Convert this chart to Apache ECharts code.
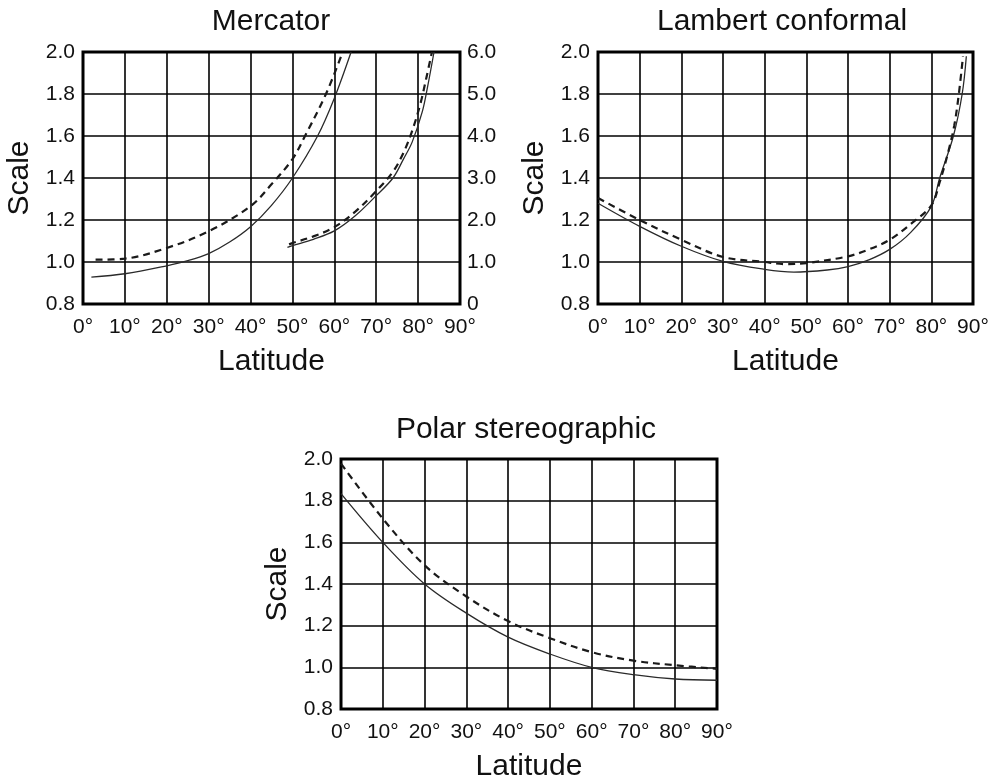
<!DOCTYPE html>
<html>
<head>
<meta charset="utf-8">
<script src="https://cdn.jsdelivr.net/npm/echarts@6/dist/echarts.min.js"></script>
<style>
  html, body { margin: 0; background: #fff; }
  #chart { width: 998px; height: 783px; }
</style>
</head>
<body>
<div id="chart"></div>
<script>
// Mercator (left scale 0.8 - 2.0)
const mercSolidLat = [2, 10, 20, 25, 30, 35, 40, 45, 50, 56, 60, 64];
const mercSolid = [0.928, 0.944, 0.982, 1.006, 1.04, 1.095, 1.168, 1.27, 1.4, 1.6, 1.78, 2.0];
const mercDashLat = [3, 10, 20, 30, 40, 45, 50, 53, 58, 62];
const mercDash = [1.011, 1.016, 1.067, 1.146, 1.266, 1.37, 1.49, 1.6, 1.8, 2.0];
// Mercator (right scale 0 - 6)
const mercSolidHiLat = [48.8, 50, 55, 60, 65, 70, 74, 76.5, 78.6, 81, 82.2, 83.8];
const mercSolidHi = [1.35, 1.39, 1.54, 1.74, 2.1, 2.58, 3.0, 3.45, 3.86, 4.58, 5.14, 6.0];
const mercDashHiLat = [49.2, 50, 55, 60, 65, 70, 74, 76.5, 78.5, 80.5, 82, 83.3];
const mercDashHi = [1.42, 1.45, 1.61, 1.83, 2.2, 2.69, 3.15, 3.6, 4.1, 4.75, 5.4, 6.0];

// Lambert conformal
const lambSolidLat = [0, 10, 20, 30, 40, 47, 55, 60, 65, 70, 75, 80, 82, 85.3, 87.4, 88.4];
const lambSolid = [1.28, 1.17, 1.075, 1.003, 0.965, 0.952, 0.962, 0.978, 1.01, 1.06, 1.14, 1.265, 1.4, 1.6, 1.8, 1.98];
const lambDashLat = [0, 10, 20, 30, 40, 45, 50, 60, 65, 70, 75, 80, 82, 84, 85.5, 86.6, 87.6];
const lambDash = [1.305, 1.2, 1.106, 1.024, 1.0, 0.99, 0.995, 1.027, 1.06, 1.106, 1.18, 1.27, 1.38, 1.52, 1.65, 1.8, 1.98];

// Polar stereographic
const polarLat = [0, 10, 20, 30, 40, 50, 60, 70, 80, 90];
const polarSolid = [1.834, 1.6, 1.4, 1.26, 1.145, 1.064, 1.0, 0.965, 0.944, 0.938];
const polarDash = [1.978, 1.714, 1.49, 1.34, 1.222, 1.14, 1.073, 1.032, 1.01, 0.993];

const titles = ["Mercator", "Lambert conformal", "Polar stereographic"];
const rightTicks = ["0", "1.0", "2.0", "3.0", "4.0", "5.0", "6.0"];

const FONT = "'Liberation Sans', Arial, sans-serif";
const INK = "#111";

function pairs(xs, ys) {
  return xs.map((x, i) => [x, ys[i]]);
}

function latAxis(gridIndex) {
  return {
    type: "value",
    gridIndex: gridIndex,
    min: 0,
    max: 90,
    interval: 10,
    axisLine: { show: false },
    axisTick: { show: false },
    axisLabel: {
      formatter: (v) => v + "°",
      fontSize: 21,
      color: INK,
      fontFamily: FONT,
      margin: 13,
    },
    splitLine: { show: true, lineStyle: { color: "#000", width: 1.6 } },
    name: "Latitude",
    nameLocation: "middle",
    nameGap: 43,
    nameTextStyle: { fontSize: 30, color: INK, fontFamily: FONT },
  };
}

function scaleAxis(gridIndex) {
  return {
    type: "value",
    gridIndex: gridIndex,
    min: 0.8,
    max: 2.0,
    interval: 0.2,
    axisLine: { show: false },
    axisTick: { show: false },
    axisLabel: {
      formatter: (v) => v.toFixed(1),
      fontSize: 21,
      color: INK,
      fontFamily: FONT,
      margin: 8,
    },
    splitLine: { show: true, lineStyle: { color: "#000", width: 1.6 } },
    name: "Scale",
    nameLocation: "middle",
    nameGap: 48,
    nameTextStyle: { fontSize: 30, color: INK, fontFamily: FONT },
  };
}

function curve(xi, yi, data, dashed) {
  return {
    type: "line",
    xAxisIndex: xi,
    yAxisIndex: yi,
    data: data,
    smooth: 0.35,
    showSymbol: false,
    silent: true,
    clip: true,
    lineStyle: dashed
      ? { color: "#1a1a1a", width: 2.2, type: [7, 5] }
      : { color: "#2a2a2a", width: 1.3 },
  };
}

const gridStyle = { show: true, borderColor: "#000", borderWidth: 3, backgroundColor: "transparent" };

const chart = echarts.init(document.getElementById("chart"), null, { renderer: "canvas" });

chart.setOption({
  animation: false,
  backgroundColor: "#fff",
  title: [
    { text: titles[0], left: 271, top: 7, textAlign: "center" },
    { text: titles[1], left: 782, top: 7, textAlign: "center" },
    { text: titles[2], left: 526, top: 415, textAlign: "center" },
  ].map((t) => Object.assign(t, { padding: 0, textStyle: { fontSize: 30, fontWeight: "normal", color: INK, fontFamily: FONT } })),
  grid: [
    Object.assign({ left: 83, top: 52, width: 377, height: 252 }, gridStyle),
    Object.assign({ left: 598, top: 52, width: 375, height: 252 }, gridStyle),
    Object.assign({ left: 341, top: 459, width: 376, height: 253 }, gridStyle),
  ],
  xAxis: [latAxis(0), latAxis(1), latAxis(2)],
  yAxis: [
    scaleAxis(0),
    {
      type: "value",
      gridIndex: 0,
      position: "right",
      min: 0,
      max: 6,
      interval: 1,
      axisLine: { show: false },
      axisTick: { show: false },
      splitLine: { show: false },
      axisLabel: {
        formatter: (v) => rightTicks[Math.round(v)],
        fontSize: 21,
        color: INK,
        fontFamily: FONT,
        margin: 7,
      },
    },
    scaleAxis(1),
    scaleAxis(2),
  ],
  series: [
    curve(0, 0, pairs(mercSolidLat, mercSolid), false),
    curve(0, 0, pairs(mercDashLat, mercDash), true),
    curve(0, 1, pairs(mercSolidHiLat, mercSolidHi), false),
    curve(0, 1, pairs(mercDashHiLat, mercDashHi), true),
    curve(1, 2, pairs(lambSolidLat, lambSolid), false),
    curve(1, 2, pairs(lambDashLat, lambDash), true),
    curve(2, 3, pairs(polarLat, polarSolid), false),
    curve(2, 3, pairs(polarLat, polarDash), true),
  ],
});
</script>
</body>
</html>
